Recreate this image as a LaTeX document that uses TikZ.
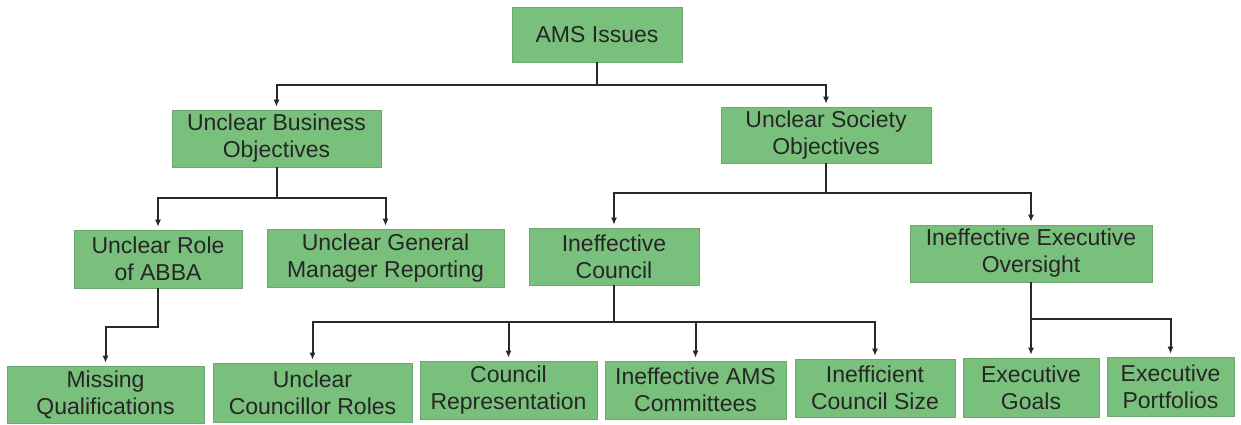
\documentclass[tikz,border=0pt]{standalone}
\usepackage{fontspec}
\setmainfont{Liberation Sans}
\usetikzlibrary{shapes,arrows.meta}
\definecolor{issuegreen}{RGB}{122,192,125}
\definecolor{linkgray}{RGB}{40,40,40}

\begin{document}
\begin{tikzpicture}[x=1pt,y=-1pt,
		issue/.style={fill=issuegreen,draw=issuegreen!88!black,line width=0.6pt,
			text=black!85,align=center,inner sep=0pt,
			font=\fontsize{23}{27}\selectfont},
		link/.style={draw=linkgray,line width=2pt,
			-{Latex[length=7pt,width=6pt]},shorten >=3pt}]

		\useasboundingbox[fill=white] (0,0) rectangle (1241,424);

		% root
		\node[issue,minimum width=170pt,minimum height=55pt] (ams) at (597,34.5) {AMS Issues};

		% second level
		\node[issue,minimum width=209pt,minimum height=57pt] (ubo) at (276.5,138.5) {Unclear Business\\Objectives};
		\node[issue,minimum width=210pt,minimum height=56pt] (uso) at (826,135) {Unclear Society\\Objectives};

		% third level
		\node[issue,minimum width=168pt,minimum height=58pt] (ura) at (158,259) {Unclear Role\\of ABBA};
		\node[issue,minimum width=237pt,minimum height=58pt] (ugmr) at (385.5,258) {Unclear General\\Manager Reporting};
		\node[issue,minimum width=170pt,minimum height=57pt] (ic) at (614,256.5) {Ineffective\\Council};
		\node[issue,minimum width=242pt,minimum height=57pt] (ieo) at (1031,253.5) {Ineffective Executive\\Oversight};

		% bottom row
		\node[issue,minimum width=197pt,minimum height=57pt] (mq) at (105.5,394.5) {Missing\\Qualifications};
		\node[issue,minimum width=199pt,minimum height=59pt] (ucr) at (312.5,392.5) {Unclear\\Councillor Roles};
		\node[issue,minimum width=177pt,minimum height=58pt] (cr) at (508.5,390) {Council\\Representation};
		\node[issue,minimum width=181pt,minimum height=58pt] (iams) at (695.5,390) {Ineffective AMS\\Committees};
		\node[issue,minimum width=160pt,minimum height=58pt] (ics) at (875,388) {Inefficient\\Council Size};
		\node[issue,minimum width=136pt,minimum height=59pt] (eg) at (1031,387.5) {Executive\\Goals};
		\node[issue,minimum width=127pt,minimum height=59pt] (ep) at (1170.5,386.5) {Executive\\Portfolios};

		% connectors
		\foreach \child in {ubo,uso}{
			\draw[link] (ams.south) -- ++(0,23) -| (\child.north);
		}
		\foreach \child in {ura,ugmr}{
			\draw[link] (ubo.south) -- ++(0,31) -| (\child.north);
		}
		\foreach \child in {ic,ieo}{
			\draw[link] (uso.south) -- ++(0,30) -| (\child.north);
		}
		\draw[link] (ura.south) -- ++(0,39) -| (mq.north);
		\foreach \child in {ucr,cr,iams,ics}{
			\draw[link] (ic.south) -- ++(0,37) -| (\child.north);
		}
		\draw[link] (ieo.south) -- (eg.north);
		\draw[link] (ieo.south) -- ++(0,37) -| (ep.north);

	\end{tikzpicture}
\end{document}
